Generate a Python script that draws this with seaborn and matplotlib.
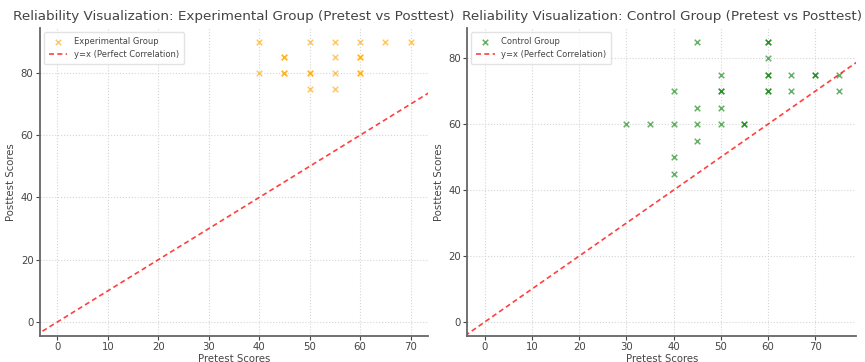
import matplotlib
matplotlib.use("Agg")
import matplotlib.pyplot as plt
import seaborn as sns
import pandas as pd

# Experimental group (pretest, posttest)
exp_pre = [40, 40, 45, 45, 45, 45, 50, 50, 50, 50, 55, 55, 55, 55, 60, 60, 60, 60, 60, 65, 70]
exp_post = [90, 80, 85, 85, 80, 80, 90, 80, 80, 75, 90, 85, 80, 75, 90, 85, 85, 80, 80, 90, 90]

# Control group (pretest, posttest)
ctl_pre = [30, 35, 40, 40, 40, 40, 45, 45, 45, 45, 50, 50, 50, 50, 50, 55, 55,
           60, 60, 60, 60, 60, 60, 60, 65, 65, 70, 70, 75, 75]
ctl_post = [60, 60, 60, 70, 50, 45, 85, 65, 60, 55, 75, 70, 70, 65, 60, 60, 60,
            85, 85, 80, 75, 75, 70, 70, 75, 70, 75, 75, 75, 70]

ref_line = [-10, 0, 100]

titles = ["Reliability Visualization: Experimental Group (Pretest vs Posttest)",
          "Reliability Visualization: Control Group (Pretest vs Posttest)"]
labels = ["Experimental Group", "Control Group"]
colors = ["orange", "green"]
xlims = [(-3.5, 73.5), (-3.75, 78.75)]
ylims = [(-4.5, 94.5), (-4.25, 89.25)]

sns.set_style("whitegrid")
plt.rcParams['font.family'] = ['DejaVu Sans']
plt.rcParams['text.color'] = '#444444'
plt.rcParams['axes.labelcolor'] = '#444444'
plt.rcParams['xtick.color'] = '#444444'
plt.rcParams['ytick.color'] = '#444444'

fig = plt.figure(figsize=(8.65, 3.62), dpi=100)
ax1 = fig.add_axes([0.046, 0.072, 0.449, 0.851])
ax2 = fig.add_axes([0.540, 0.072, 0.450, 0.851])

datasets = [(exp_pre, exp_post), (ctl_pre, ctl_post)]
for i, ax in enumerate([ax1, ax2]):
    pre, post = datasets[i]
    df = pd.DataFrame({"Pretest Scores": pre, "Posttest Scores": post})
    sns.scatterplot(data=df, x="Pretest Scores", y="Posttest Scores", ax=ax,
                    marker="x", color=colors[i], alpha=0.6, s=16, linewidth=1.1,
                    label=labels[i])
    sns.lineplot(x=ref_line, y=ref_line, ax=ax, color="red", linestyle=(0, (3, 2)),
                 alpha=0.75, linewidth=1.2, label="y=x (Perfect Correlation)")
    ax.set_xlim(*xlims[i])
    ax.set_ylim(*ylims[i])
    ax.set_title(titles[i], fontsize=9.7, color="#444444", pad=6)
    ax.set_xlabel("Pretest Scores", fontsize=7.3, labelpad=1)
    ax.set_ylabel("Posttest Scores", fontsize=7.3, labelpad=3)
    ax.tick_params(labelsize=7.3, length=3, width=0.8, pad=1.5, left=True, bottom=True)
    ax.grid(True, linestyle=":", color="#d5d5d5", linewidth=0.8)
    for side in ["top", "right"]:
        ax.spines[side].set_visible(False)
    for side in ["left", "bottom"]:
        ax.spines[side].set_color("#666666")
        ax.spines[side].set_linewidth(1.3)
    leg = ax.legend(loc="upper left", fontsize=6, frameon=True, borderpad=0.6,
                    handlelength=2.2, labelspacing=0.5)
    leg.get_frame().set_edgecolor("#dddddd")

fig.savefig("out.png", dpi=100)
